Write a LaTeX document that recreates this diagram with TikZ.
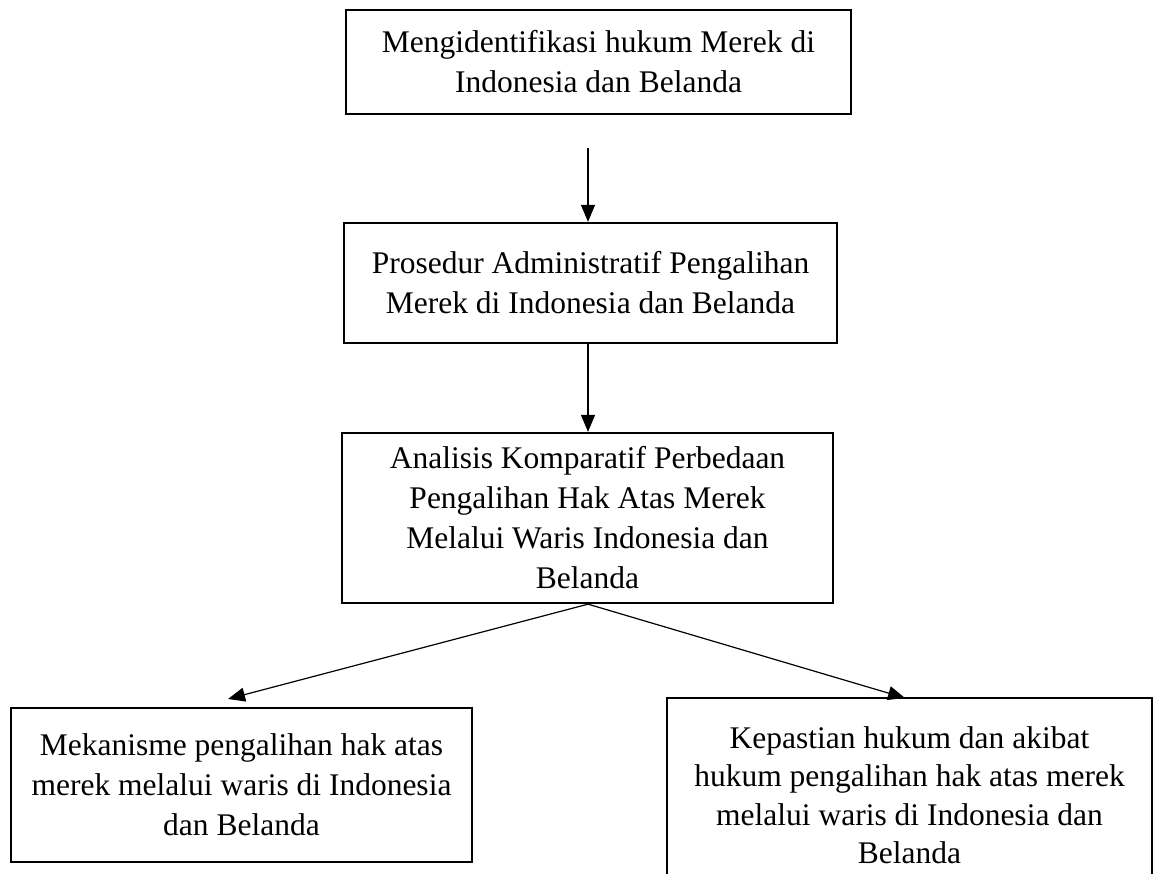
\documentclass[tikz,border=0pt]{standalone}
\usepackage{fontspec}
\setmainfont{Liberation Serif}
\usetikzlibrary{arrows.meta}
\begin{document}
\begin{tikzpicture}[x=1pt,y=-1pt,
  flowbox/.style={draw=black, line width=2.3pt, rectangle, inner sep=0pt, align=center,
    font=\fontsize{31.5}{40}\selectfont},
  conn/.style={line width=1.2pt, -{Triangle[length=17pt,width=14pt]}}]
\useasboundingbox (0,0) rectangle (1155,874);
\clip (0,0) rectangle (1155,874);
\fill[white] (0,0) rectangle (1155,874);
\node[flowbox, minimum width=505pt, minimum height=104pt] (b1) at (598.5,62)
  {Mengidentifikasi hukum Merek di\\Indonesia dan Belanda};
\node[flowbox, minimum width=493pt, minimum height=120pt] (b2) at (590.5,283)
  {Prosedur Administratif Pengalihan\\Merek di Indonesia dan Belanda};
\node[flowbox, minimum width=491pt, minimum height=170pt] (b3) at (587.5,518)
  {Analisis Komparatif Perbedaan\\Pengalihan Hak Atas Merek\\Melalui Waris Indonesia dan\\Belanda};
\node[flowbox, minimum width=461pt, minimum height=154pt] (b4) at (241.5,785)
  {Mekanisme pengalihan hak atas\\merek melalui waris di Indonesia\\dan Belanda};
\node[flowbox, minimum width=485pt, minimum height=194pt,
  font=\fontsize{31.5}{38.5}\selectfont] (b5) at (909.5,795)
  {Kepastian hukum dan akibat\\hukum pengalihan hak atas merek\\melalui waris di Indonesia dan\\Belanda};
\coordinate (s1) at (588,148);
\coordinate (t4) at (228,699);
\coordinate (t5) at (905,698);
\draw[conn] (s1) -- (s1 |- b2.north);
\draw[conn] (b2.south -| s1) -- (b3.north -| s1);
\draw[conn] (b3.south -| s1) -- (t4);
\draw[conn] (b3.south -| s1) -- (t5);
\end{tikzpicture}
\end{document}
